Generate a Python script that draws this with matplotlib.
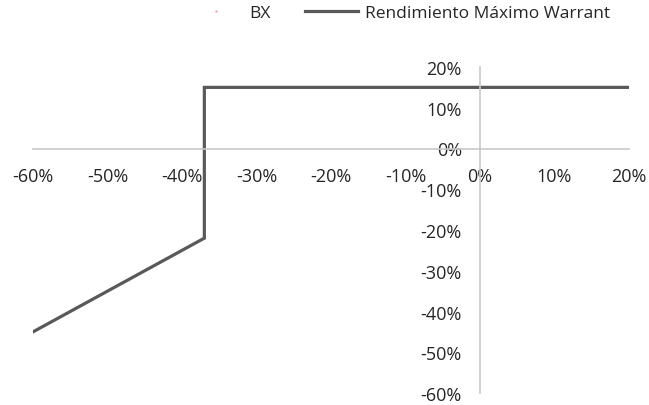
import matplotlib
matplotlib.use("Agg")
import matplotlib.pyplot as plt
from matplotlib.lines import Line2D
from matplotlib.ticker import FuncFormatter

# Data (returns as fractions)
bx_change = [-0.60, -0.37, -0.37, 0.20]
warrant_return = [-0.45, -0.22, 0.15, 0.15]
x_ticks = [-0.6, -0.5, -0.4, -0.3, -0.2, -0.1, 0.0, 0.1, 0.2]
y_ticks = [-0.6, -0.5, -0.4, -0.3, -0.2, -0.1, 0.0, 0.1, 0.2]
series_names = ["BX", "Rendimiento Máximo Warrant"]

plt.rcParams['font.family'] = ['Open Sans', 'DejaVu Sans']

fig = plt.figure(figsize=(6.49, 4.06), dpi=100)
ax = fig.add_axes([33/649, 1-394/406, (629-33)/649, (394-68)/406])

line_color = '#595959'
axis_color = '#c8c8c8'
text_color = '#262626'
fs = 12.5

ax.plot(bx_change, warrant_return, color=line_color, lw=2.3, solid_joinstyle='miter')

ax.set_xlim(-0.6, 0.2)
ax.set_ylim(-0.6, 0.2)
ax.set_xticks(x_ticks)
ax.set_yticks(y_ticks)
pct = FuncFormatter(lambda v, p: f"{round(v*100):d}%")
ax.xaxis.set_major_formatter(pct)
ax.yaxis.set_major_formatter(pct)

for s in ['top', 'right']:
    ax.spines[s].set_visible(False)
ax.spines['left'].set_position(('data', 0))
ax.spines['bottom'].set_position(('data', 0))
for s in ['left', 'bottom']:
    ax.spines[s].set_color(axis_color)
    ax.spines[s].set_linewidth(1.2)
ax.tick_params(axis='both', length=0, labelsize=13, colors=text_color)
ax.tick_params(axis='x', pad=13)
ax.tick_params(axis='y', pad=13)
ax.set_zorder(1)

handles = [
    Line2D([], [], color='#f4a7b0', marker='.', markersize=1.5, linestyle='none'),
    Line2D([], [], color=line_color, lw=2.3),
]
fig.legend(handles, series_names, loc='center', bbox_to_anchor=(400/649, 1-14/406),
           ncol=2, frameon=False, fontsize=fs, handlelength=3.0, handletextpad=0.4,
           columnspacing=2.0, labelcolor=text_color, borderpad=0.2)

fig.savefig("out.png", dpi=100, facecolor='white')
